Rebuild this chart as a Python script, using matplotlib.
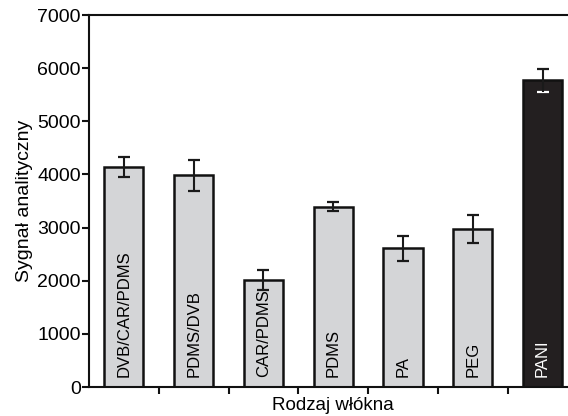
import matplotlib
matplotlib.use("Agg")
import matplotlib.pyplot as plt
import numpy as np

plt.rcParams['font.family'] = ['Liberation Sans', 'DejaVu Sans']

categories = ["DVB/CAR/PDMS", "PDMS/DVB", "CAR/PDMS", "PDMS", "PA", "PEG", "PANI"]
values = [4140, 3980, 2010, 3395, 2610, 2970, 5770]
errors = [195, 290, 185, 88, 240, 263, 210]
bar_colors = ["#d4d5d7"] * 6 + ["#231f20"]
text_colors = ["black"] * 6 + ["white"]
lower_cap_colors = ["#1a1a1a"] * 6 + ["white"]
yticks = [0, 1000, 2000, 3000, 4000, 5000, 6000, 7000]

fig = plt.figure(figsize=(5.68, 4.16), dpi=100)
ax = fig.add_axes([89 / 568, 29 / 416, (577.5 - 89) / 568, (387 - 15) / 416])

x = np.arange(len(categories))
ax.bar(x, values, width=0.56, color=bar_colors, edgecolor="#111111", linewidth=1.8, zorder=2)

vals = np.array(values)
errs = np.array(errors)
# vertical error lines
ax.vlines(x, vals - errs, vals + errs, color="#1a1a1a", linewidth=1.5, zorder=4)
# caps
ax.plot(x, vals + errs, linestyle="none", marker="_", markersize=8.5,
        markeredgewidth=1.6, color="#1a1a1a", zorder=3)
for xi, v, e, c in zip(x, vals, errs, lower_cap_colors):
    ax.plot([xi], [v - e], linestyle="none", marker="_", markersize=8.5,
            markeredgewidth=1.6, color=c, zorder=3)

for xi, lab, tc in zip(x, categories, text_colors):
    ax.annotate(lab, xy=(xi, 0), xytext=(0, 7), textcoords="offset points",
                rotation=90, ha="center", va="bottom", fontsize=12, color=tc, zorder=5)

ax.set_xlim(-0.5, len(categories) - 0.5)
ax.set_ylim(0, 7000)
ax.set_yticks(yticks)
ax.set_yticklabels([str(t) for t in yticks], fontsize=14)
ax.set_xticks(x[:-1] + 0.5)
ax.set_xticklabels([])
ax.tick_params(axis="both", direction="out", length=5, width=1.5, pad=1, color="#111111")

for s in ["left", "bottom", "top"]:
    ax.spines[s].set_linewidth(1.5)
    ax.spines[s].set_color("#111111")
ax.spines["right"].set_visible(False)

ax.set_ylabel("Sygnał analityczny", fontsize=14, labelpad=3)
ax.set_xlabel("Rodzaj włókna", fontsize=13.5, labelpad=1)

fig.savefig("out.png", dpi=100)
